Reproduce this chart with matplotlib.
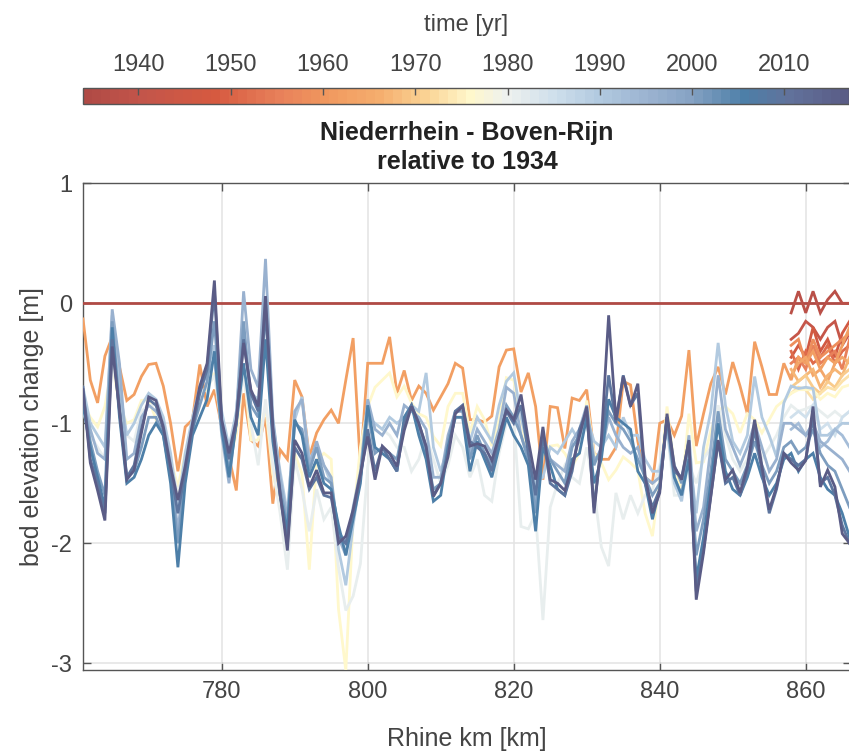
import numpy as np
import matplotlib
matplotlib.use('Agg')
import matplotlib.pyplot as plt
from matplotlib.colors import LinearSegmentedColormap, Normalize
from matplotlib.cm import ScalarMappable

plt.rcParams['font.family'] = ['Liberation Sans Narrow', 'Liberation Sans', 'DejaVu Sans']
plt.rcParams['axes.unicode_minus'] = False

# colour scale of the survey years
cbar_years = [1934, 1940, 1948, 1955, 1960, 1966, 1971, 1976, 1980, 1985, 1990, 1995, 2000, 2006, 2011, 2017]
cbar_colors = ['#b04a45', '#c3554a', '#d65a40', '#e8805a', '#f0975e', '#f5ae6e', '#fad293', '#fff8cc',
               '#eef1ee', '#d0e0ec', '#b2cae0', '#9db5d2', '#87a3c4', '#4d7fa8', '#61729b', '#5a5c86']
cbar_ticks = [1940, 1950, 1960, 1970, 1980, 1990, 2000, 2010]

# Rhine km for the full surveys and for the short (downstream only) early surveys
km_full = np.arange(761, 867)
km_short = np.arange(858, 867)

# bed elevation change [m] relative to 1934
y1934 = [0.0] * len(km_full)

y1962 = [-0.13, -0.64, -0.83, -0.44, -0.28, -0.53, -0.81, -0.76, -0.61, -0.51,
         -0.50, -0.69, -1.00, -1.40, -1.03, -0.97, -0.51, -0.86, -0.72, -1.03,
         -1.28, -1.56, -0.75, -1.14, -1.19, -0.95, -1.67, -1.22, -1.30, -0.64,
         -0.78, -1.28, -1.08, -0.97, -0.89, -1.00, -0.64, -0.29, -1.36, -0.50,
         -0.50, -0.50, -0.28, -0.75, -0.56, -0.81, -0.69, -0.75, -0.89, -0.78,
         -0.67, -0.50, -0.54, -0.97, -0.97, -0.99, -0.94, -0.53, -0.39, -0.38,
         -0.74, -0.58, -0.86, -1.47, -0.86, -0.87, -1.21, -0.79, -0.81, -0.72,
         -1.25, -1.30, -1.30, -1.20, -0.65, -0.68, -1.15, -1.45, -1.50, -1.00,
         -0.97, -1.10, -0.94, -0.39, -1.19, -0.92, -0.67, -0.53, -0.76, -0.49,
         -0.69, -0.92, -0.32, -0.53, -0.76, -0.76, -0.50, -0.64, -0.45, -0.50,
         -0.40, -0.55, -0.45, -0.50, -0.35, -0.20]

y1976 = [-0.83, -0.95, -1.03, -0.86, -0.50, -0.85, -1.00, -0.97, -0.81, -0.80,
         -0.97, -1.10, -1.30, -1.53, -1.25, -1.00, -0.75, -0.72, -0.58, -1.03,
         -1.30, -1.10, -0.55, -1.14, -1.14, -0.86, -1.42, -1.69, -1.78, -1.25,
         -1.42, -2.22, -1.31, -1.25, -1.30, -2.55, -3.06, -1.80, -1.20, -0.86,
         -0.70, -0.64, -0.58, -0.78, -0.69, -0.83, -0.92, -0.95, -1.11, -1.19,
         -0.86, -0.75, -0.75, -1.08, -0.86, -0.97, -1.19, -0.97, -0.62, -0.64,
         -0.97, -1.28, -1.53, -1.25, -1.19, -1.18, -1.25, -1.36, -1.25, -0.81,
         -1.25, -1.33, -1.47, -1.39, -1.28, -1.33, -1.39, -1.75, -1.94, -1.47,
         -0.86, -1.36, -1.58, -0.92, -1.33, -1.32, -1.06, -0.89, -0.86, -0.92,
         -1.08, -0.92, -0.97, -1.08, -0.97, -0.86, -0.81, -0.75, -0.72, -0.72,
         -0.72, -0.80, -0.75, -0.78, -0.70, -0.68]

y1981 = [-0.90, -1.10, -1.20, -1.30, -0.50, -0.80, -1.10, -1.15, -0.90, -0.85,
         -0.85, -1.00, -1.30, -1.60, -1.30, -1.00, -0.75, -0.70, -0.60, -1.00,
         -1.35, -1.00, -0.60, -1.00, -1.35, -0.80, -1.35, -1.75, -2.22, -1.30,
         -1.55, -1.90, -1.55, -1.80, -1.70, -2.20, -2.56, -2.44, -2.17, -1.36,
         -1.00, -1.05, -1.10, -1.20, -1.20, -1.40, -1.30, -1.10, -1.30, -1.50,
         -1.35, -1.10, -1.20, -1.45, -1.30, -1.60, -1.65, -1.25, -1.00, -0.95,
         -1.86, -1.88, -1.75, -2.64, -1.70, -1.50, -1.35, -1.45, -1.50, -1.20,
         -1.55, -2.03, -2.19, -1.58, -1.80, -1.60, -1.75, -1.60, -1.55, -1.35,
         -1.05, -1.60, -1.60, -1.35, -1.50, -1.30, -1.20, -0.85, -1.10, -1.30,
         -1.40, -1.30, -1.10, -1.30, -1.20, -1.10, -0.95, -0.85, -0.90, -0.88,
         -0.85, -0.90, -0.95, -0.90, -0.95, -0.90]

y1990 = [-0.70, -1.00, -1.10, -1.20, -0.10, -0.70, -1.10, -1.00, -0.85, -0.75,
         -0.80, -0.95, -1.25, -1.70, -1.25, -0.95, -0.70, -0.55, -0.35, -0.90,
         -1.20, -0.90, -0.20, -0.75, -0.80, -0.10, -1.00, -1.40, -1.75, -0.97,
         -0.78, -1.30, -1.20, -1.35, -1.50, -2.05, -2.35, -1.85, -1.45, -0.95,
         -1.00, -1.05, -0.95, -1.00, -0.95, -0.85, -0.90, -0.58, -1.20, -1.40,
         -1.20, -0.95, -0.95, -1.15, -0.95, -1.05, -1.15, -0.85, -0.65, -0.58,
         -0.95, -1.20, -1.50, -1.45, -1.20, -1.25, -1.15, -1.05, -1.15, -0.95,
         -1.15, -1.20, -1.10, -1.20, -0.95, -1.10, -1.10, -1.30, -1.40, -1.40,
         -1.05, -1.50, -1.65, -1.25, -1.75, -1.20, -0.90, -0.33, -0.85, -1.15,
         -1.25, -1.10, -0.61, -0.95, -1.10, -1.28, -0.83, -0.69, -0.71, -0.70,
         -0.71, -1.10, -1.10, -1.05, -1.00, -1.00]

y1996 = [-0.80, -1.05, -1.25, -1.30, -0.05, -0.50, -1.30, -1.25, -0.95, -0.85,
         -0.90, -1.00, -1.35, -1.90, -1.35, -1.00, -0.70, -0.60, -0.45, -1.10,
         -1.50, -0.95, 0.10, -0.55, -0.70, 0.37, -0.95, -1.45, -1.80, -0.90,
         -0.80, -1.35, -1.15, -1.35, -1.45, -1.95, -2.10, -1.70, -1.40, -0.80,
         -1.05, -1.10, -1.00, -1.10, -0.85, -0.90, -0.95, -1.05, -1.45, -1.45,
         -1.10, -0.90, -0.85, -1.25, -1.05, -1.15, -1.25, -1.05, -0.70, -0.75,
         -1.10, -1.30, -1.65, -1.15, -1.30, -1.35, -1.40, -1.15, -1.05, -0.85,
         -1.30, -1.25, -0.95, -1.10, -1.20, -1.25, -1.20, -1.45, -1.50, -1.45,
         -1.00, -1.45, -1.60, -1.10, -1.90, -1.70, -1.20, -0.60, -1.05, -1.20,
         -1.35, -1.20, -1.00, -1.20, -1.40, -1.30, -1.00, -1.00, -1.05, -1.10,
         -1.00, -1.15, -1.20, -1.25, -1.30, -1.40]

y2001 = [-0.80, -1.15, -1.40, -1.60, -0.15, -0.85, -1.45, -1.40, -1.20, -0.95,
         -0.95, -1.10, -1.45, -2.00, -1.45, -1.05, -0.85, -0.65, -0.15, -1.00,
         -1.40, -1.00, -0.15, -0.85, -0.95, 0.05, -1.10, -1.55, -1.85, -1.00,
         -1.05, -1.40, -1.20, -1.45, -1.50, -1.90, -2.00, -1.75, -1.45, -0.90,
         -1.25, -1.20, -1.25, -1.30, -1.00, -0.85, -1.05, -1.25, -1.55, -1.50,
         -1.15, -0.90, -0.90, -1.30, -1.10, -1.25, -1.35, -1.15, -0.85, -0.95,
         -1.10, -1.30, -1.75, -1.10, -1.30, -1.40, -1.50, -1.20, -1.10, -0.90,
         -1.35, -1.20, -0.90, -1.00, -1.05, -1.15, -1.30, -1.45, -1.60, -1.50,
         -0.95, -1.35, -1.50, -1.20, -2.10, -1.80, -1.40, -0.90, -1.30, -1.40,
         -1.50, -1.35, -1.15, -1.35, -1.50, -1.40, -1.20, -1.15, -1.25, -1.20,
         -1.05, -1.25, -1.35, -1.40, -1.55, -1.70]

y2006 = [-0.85, -1.20, -1.45, -1.70, -0.20, -0.95, -1.50, -1.45, -1.30, -1.10,
         -1.00, -1.10, -1.50, -2.20, -1.50, -1.10, -0.95, -0.80, -0.40, -1.05,
         -1.45, -1.00, -0.50, -0.95, -1.10, -0.30, -1.15, -1.60, -1.90, -0.97,
         -1.10, -1.45, -1.30, -1.50, -1.55, -1.85, -2.10, -1.80, -1.50, -0.85,
         -1.20, -1.25, -1.30, -1.40, -0.95, -0.85, -1.10, -1.30, -1.65, -1.60,
         -1.20, -0.95, -0.95, -1.40, -1.15, -1.30, -1.45, -1.20, -0.95, -1.10,
         -1.20, -1.35, -1.90, -1.20, -1.35, -1.55, -1.60, -1.30, -1.25, -0.95,
         -1.50, -1.30, -0.80, -0.95, -1.00, -1.05, -1.40, -1.50, -1.80, -1.55,
         -0.95, -1.45, -1.60, -1.30, -2.30, -1.95, -1.50, -1.00, -1.40, -1.55,
         -1.60, -1.45, -1.25, -1.45, -1.60, -1.50, -1.30, -1.25, -1.40, -1.30,
         -1.25, -1.45, -1.55, -1.60, -1.75, -1.95]

y2010 = [-0.70, -1.30, -1.50, -1.75, -0.30, -0.90, -1.45, -1.35, -1.05, -0.80,
         -0.85, -1.05, -1.40, -1.75, -1.40, -1.05, -0.75, -0.55, 0.10, -1.00,
         -1.30, -1.00, -0.30, -0.75, -0.90, -0.05, -1.05, -1.60, -2.00, -1.20,
         -1.30, -1.55, -1.45, -1.60, -1.62, -1.95, -2.00, -1.75, -1.45, -1.05,
         -1.40, -1.20, -1.30, -1.40, -1.00, -0.85, -1.00, -1.20, -1.60, -1.50,
         -1.25, -0.90, -0.85, -1.15, -1.20, -1.25, -1.40, -1.10, -0.90, -1.00,
         -0.85, -1.25, -1.60, -1.10, -1.50, -1.55, -1.60, -1.40, -1.05, -0.90,
         -1.70, -1.20, -0.60, -1.00, -0.60, -0.85, -0.75, -1.50, -1.70, -1.55,
         -0.95, -1.40, -1.45, -1.15, -2.40, -2.05, -1.60, -1.15, -1.50, -1.45,
         -1.60, -1.40, -1.05, -1.40, -1.75, -1.55, -1.25, -1.30, -1.35, -1.30,
         -0.95, -1.50, -1.45, -1.60, -1.85, -2.00]

y2017 = [-0.72, -1.33, -1.56, -1.81, -0.36, -0.89, -1.47, -1.39, -1.08, -0.78,
         -0.81, -1.03, -1.36, -1.64, -1.36, -1.00, -0.69, -0.50, 0.19, -0.97,
         -1.25, -0.97, -0.33, -0.72, -0.86, 0.06, -1.03, -1.58, -2.06, -1.14,
         -1.25, -1.53, -1.39, -1.58, -1.58, -2.00, -1.94, -1.72, -1.42, -1.11,
         -1.47, -1.19, -1.25, -1.36, -1.06, -0.86, -1.00, -1.19, -1.61, -1.50,
         -1.28, -0.92, -0.86, -1.19, -1.17, -1.19, -1.31, -1.11, -0.89, -0.97,
         -0.76, -1.14, -1.47, -1.03, -1.47, -1.50, -1.56, -1.36, -1.11, -0.86,
         -1.75, -1.14, -0.10, -0.97, -0.61, -0.86, -0.67, -1.44, -1.75, -1.58,
         -0.92, -1.36, -1.47, -1.14, -2.47, -2.08, -1.61, -1.14, -1.47, -1.39,
         -1.58, -1.36, -0.97, -1.36, -1.72, -1.53, -1.25, -1.33, -1.39, -1.31,
         -0.86, -1.53, -1.39, -1.53, -1.92, -2.00]

# early surveys that only cover the downstream end (km 858-866)
y1937 = [-0.08, 0.10, -0.08, 0.10, -0.08, 0.03, 0.10, 0.00, 0.00]
y1941 = [-0.30, -0.25, -0.15, -0.20, -0.30, -0.20, -0.15, -0.35, -0.25]
y1946 = [-0.45, -0.35, -0.45, -0.20, -0.40, -0.30, -0.45, -0.25, -0.15]
y1951 = [-0.40, -0.55, -0.40, -0.50, -0.45, -0.35, -0.50, -0.40, -0.35]
y1955 = [-0.50, -0.45, -0.55, -0.35, -0.50, -0.45, -0.40, -0.55, -0.30]
y1958 = [-0.35, -0.30, -0.50, -0.30, -0.45, -0.40, -0.35, -0.30, -0.25]
y1964 = [-0.60, -0.50, -0.45, -0.60, -0.55, -0.65, -0.50, -0.45, -0.50]
y1967 = [-0.55, -0.65, -0.60, -0.55, -0.70, -0.60, -0.55, -0.60, -0.45]
y1970 = [-0.70, -0.65, -0.60, -0.70, -0.75, -0.65, -0.70, -0.60, -0.55]
y1973 = [-0.75, -0.70, -0.72, -0.80, -0.75, -0.70, -0.72, -0.65, -0.60]
y1985 = [-0.95, -0.90, -0.95, -0.85, -1.05, -1.00, -1.10, -0.95, -0.90]
y1993 = [-1.05, -1.00, -1.10, -1.00, -1.20, -1.15, -1.05, -1.10, -1.20]

full_series = [(1934, y1934), (1962, y1962), (1976, y1976), (1981, y1981), (1990, y1990),
               (1996, y1996), (2001, y2001), (2006, y2006), (2010, y2010), (2017, y2017)]
short_series = [(1937, y1937), (1941, y1941), (1946, y1946), (1951, y1951), (1955, y1955),
                (1958, y1958), (1964, y1964), (1967, y1967), (1970, y1970), (1973, y1973),
                (1985, y1985), (1993, y1993)]

t0, t1 = 1934, 2017
pos = [(y - t0) / (t1 - t0) for y in cbar_years]
cmap = LinearSegmentedColormap.from_list('yrs', list(zip(pos, cbar_colors)), N=t1 - t0 + 1)
norm = Normalize(vmin=t0, vmax=t1)

fig = plt.figure(figsize=(8.49, 7.54), dpi=100)
ax = fig.add_axes([83/849, 1 - 670/754, 768/849, (670 - 183.3)/754])

allseries = sorted([(yr, km_full, v) for yr, v in full_series] +
                   [(yr, km_short, v) for yr, v in short_series], key=lambda s: s[0])
for yr, km, vals in allseries:
    ax.plot(km, vals, color=cmap(norm(yr)), lw=2.0, solid_joinstyle='miter', zorder=3)

ax.set_xlim(761, 866.2)
ax.set_ylim(-3.056, 1)
ax.set_xticks([780, 800, 820, 840, 860])
ax.set_yticks([-3, -2, -1, 0, 1])
ax.grid(True, color='#e3e3e3', lw=1.1, zorder=0)
ax.set_axisbelow(True)
ax.tick_params(direction='in', length=6, width=1, colors='#555555', labelcolor='#444444',
               labelsize=17, top=True, right=True, pad=8)
for s in ax.spines.values():
    s.set_color('#555555')
    s.set_linewidth(1.0)
ax.set_xlabel('Rhine km [km]', fontsize=18, color='#444444', labelpad=17)
ax.set_ylabel('bed elevation change [m]', fontsize=18, color='#444444', labelpad=5)
ax.set_title('Niederrhein - Boven-Rijn\nrelative to 1934', fontsize=18, fontweight='bold',
             color='#222222', pad=10, linespacing=1.3)

cax = fig.add_axes([83/849, 1 - 104/754, 766/849, 16/754])
sm = ScalarMappable(norm=norm, cmap=cmap)
cb = fig.colorbar(sm, cax=cax, orientation='horizontal', ticks=cbar_ticks)
cax.xaxis.set_ticks_position('top')
cax.xaxis.set_label_position('top')
cax.tick_params(direction='in', length=5, width=1, colors='#555555', labelcolor='#444444',
                labelsize=17, pad=8.5)
cb.outline.set_edgecolor('#555555')
cb.outline.set_linewidth(1.0)
cb.set_label('time [yr]', fontsize=17, color='#444444', labelpad=17)

fig.savefig('out.png', dpi=100)
